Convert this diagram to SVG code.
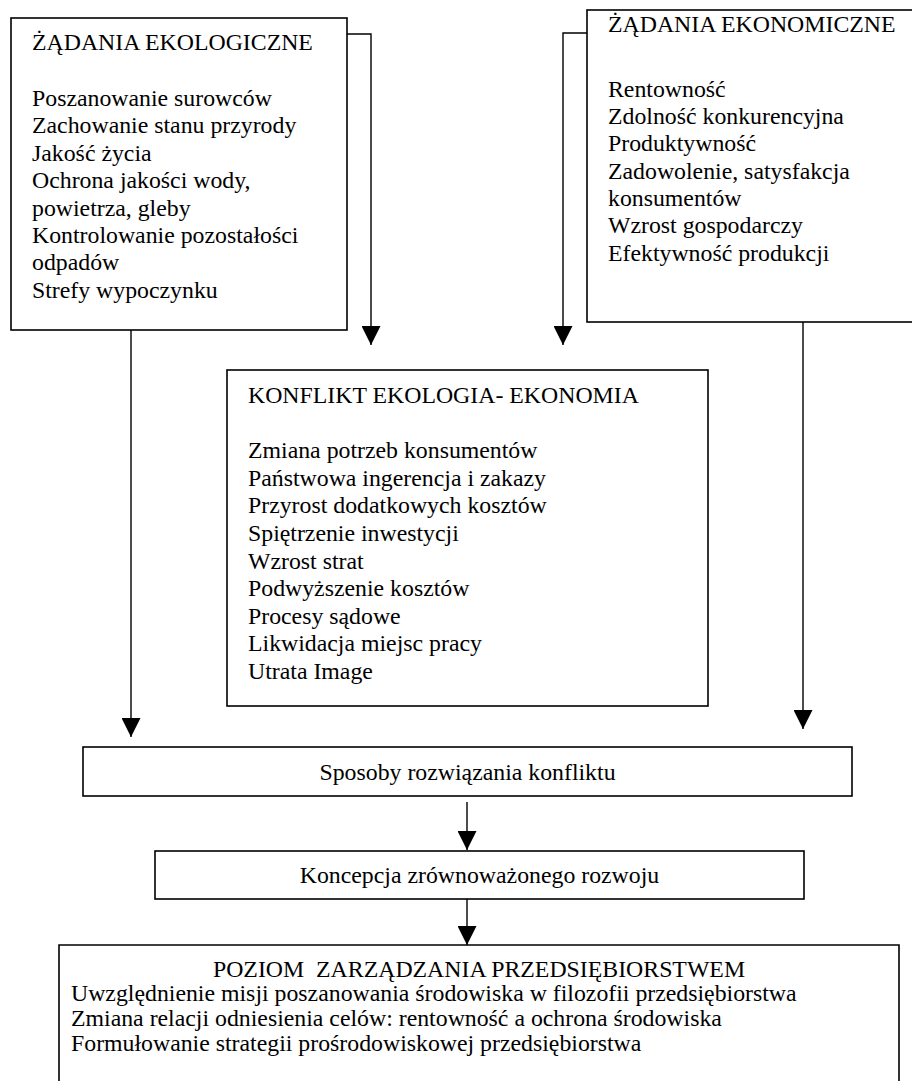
<svg xmlns="http://www.w3.org/2000/svg" width="912" height="1081" viewBox="0 0 912 1081">
<style>
.box{fill:#fff;stroke:#000;stroke-width:1.6}
.t{font-family:"Liberation Serif","Times New Roman",serif;font-size:23.8px;fill:#000}
.c{text-anchor:middle}
.con{fill:none;stroke:#000;stroke-width:1.4}
</style>
<defs>
<marker id="ah" viewBox="0 0 20 20" refX="20" refY="10" markerWidth="20" markerHeight="19" markerUnits="userSpaceOnUse" orient="auto">
<path d="M0,0 L20,10 L0,20 z" fill="#000"/>
</marker>
</defs>
<rect width="912" height="1081" fill="#fff"/>
<g id="connectors">
<polyline class="con" points="347,34 371,34 371,345" marker-end="url(#ah)"/>
<polyline class="con" points="587,33 563,33 563,345" marker-end="url(#ah)"/>
<line class="con" x1="131" y1="330" x2="131" y2="737" marker-end="url(#ah)"/>
<line class="con" x1="803" y1="322" x2="803" y2="729" marker-end="url(#ah)"/>
<line class="con" x1="467" y1="802" x2="467" y2="850" marker-end="url(#ah)"/>
<line class="con" x1="467" y1="899" x2="467" y2="945" marker-end="url(#ah)"/>
</g>
<g id="zadania-ekologiczne">
<rect class="box" x="11" y="18" width="336" height="312"/>
<text class="t" x="32" y="50">ŻĄDANIA EKOLOGICZNE</text>
<text class="t" x="32" y="106">Poszanowanie surowców</text>
<text class="t" x="32" y="133.4">Zachowanie stanu przyrody</text>
<text class="t" x="32" y="160.8">Jakość życia</text>
<text class="t" x="32" y="188.2">Ochrona jakości wody,</text>
<text class="t" x="32" y="215.6">powietrza, gleby</text>
<text class="t" x="32" y="243">Kontrolowanie pozostałości</text>
<text class="t" x="32" y="270.4">odpadów</text>
<text class="t" x="32" y="297.8">Strefy wypoczynku</text>
</g>
<g id="zadania-ekonomiczne">
<rect class="box" x="587" y="10" width="340" height="312"/>
<text class="t" x="608" y="31.7">ŻĄDANIA EKONOMICZNE</text>
<text class="t" x="608" y="96.7">Rentowność</text>
<text class="t" x="608" y="124">Zdolność konkurencyjna</text>
<text class="t" x="608" y="151.3">Produktywność</text>
<text class="t" x="608" y="178.6">Zadowolenie, satysfakcja</text>
<text class="t" x="608" y="206">konsumentów</text>
<text class="t" x="608" y="233.3">Wzrost gospodarczy</text>
<text class="t" x="608" y="260.6">Efektywność produkcji</text>
</g>
<g id="konflikt">
<rect class="box" x="227" y="370" width="481" height="336"/>
<text class="t" x="248" y="403">KONFLIKT EKOLOGIA- EKONOMIA</text>
<text class="t" x="248" y="458.3">Zmiana potrzeb konsumentów</text>
<text class="t" x="248" y="486">Państwowa ingerencja i zakazy</text>
<text class="t" x="248" y="513.3">Przyrost dodatkowych kosztów</text>
<text class="t" x="248" y="541">Spiętrzenie inwestycji</text>
<text class="t" x="248" y="568.7">Wzrost strat</text>
<text class="t" x="248" y="596">Podwyższenie kosztów</text>
<text class="t" x="248" y="623.5">Procesy sądowe</text>
<text class="t" x="248" y="651">Likwidacja miejsc pracy</text>
<text class="t" x="248" y="678.5">Utrata Image</text>
</g>
<g id="sposoby">
<rect class="box" x="83" y="747" width="769" height="49"/>
<text class="t c" x="467.5" y="780">Sposoby rozwiązania konfliktu</text>
</g>
<g id="koncepcja">
<rect class="box" x="155" y="851" width="649" height="48"/>
<text class="t c" x="479.5" y="883">Koncepcja zrównoważonego rozwoju</text>
</g>
<g id="poziom">
<path class="box" d="M59,1090 L59,945 L899,945 L899,1090"/>
<text class="t c" x="479" y="977" xml:space="preserve">POZIOM  ZARZĄDZANIA PRZEDSIĘBIORSTWEM</text>
<text class="t" x="71" y="1001">Uwzględnienie misji poszanowania środowiska w filozofii przedsiębiorstwa</text>
<text class="t" x="71" y="1026">Zmiana relacji odniesienia celów: rentowność a ochrona środowiska</text>
<text class="t" x="71" y="1050.7">Formułowanie strategii prośrodowiskowej przedsiębiorstwa</text>
</g>
</svg>
